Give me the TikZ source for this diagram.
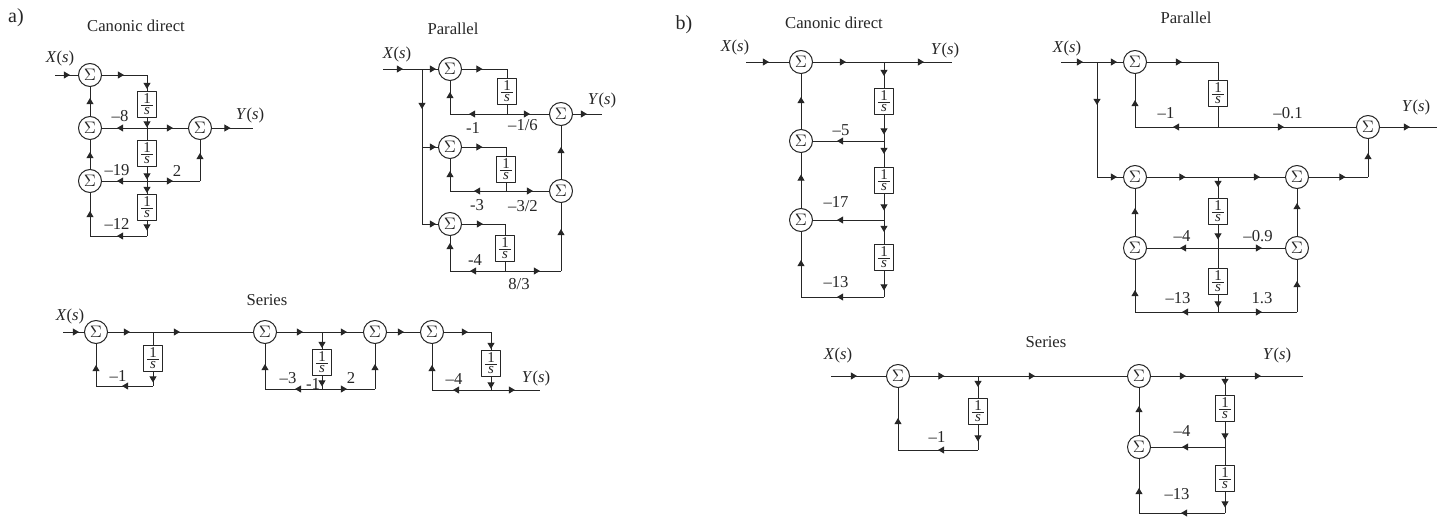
\documentclass[tikz,border=0pt]{standalone}
\usepackage{fontspec}
\setmainfont{Liberation Serif}
\usetikzlibrary{arrows.meta,decorations.markings}
\newcommand{\Xs}{\textit{X}(\textit{s})}
\newcommand{\Ys}{\textit{Y}(\textit{s})}
\newcommand{\oneovers}{$\frac{\mbox{\,1\,}}{\mbox{\itshape\,s\,}}$}
\tikzset{
	>={Triangle[length=3.7pt,width=4.2pt]},
	sumnode/.style={draw, circle, minimum size=13.8pt, inner sep=0pt},
	intbox/.style={draw, minimum width=11.4pt, minimum height=15.6pt, inner sep=0pt, font=\fontsize{9}{10}\selectfont},
	flow/.style={postaction={decorate, decoration={markings, mark=at position #1*0.6pt with {\arrow{>}}}}}
}
\begin{document}
\begin{tikzpicture}[x=0.6pt, y=-0.6pt, line width=0.6pt, draw=black!85, text=black!85, line join=round]
	\useasboundingbox (0,0) rectangle (1442,519);
	% summing points
	\foreach \p/\x/\y in {
		ca1/90/75, ca2/90/128, ca3/90/181, ca4/200/128,
		pa1/450/69, pa2/450/147, pa3/450/224, pa4/561/114, pa5/561/191,
		sa1/96/332, sa2/265/332, sa3/375/332, sa4/432/332,
		da1/801/62, da2/801/141, da3/801/220,
		ea1/1135/62, ea2/1135/177, ea3/1135/248, ea4/1368/127, ea5/1297/177, ea6/1297/248,
		fa1/898/376, fa2/1139/376, fa3/1139/447} {
		\node[sumnode] (\p) at (\x,\y) {$\Sigma$};
	}
	% integrators
	\foreach \p/\x/\y in {
		cb1/147/104, cb2/147/153, cb3/147/207,
		pb1/507/91, pb2/506/169, pb3/505/248,
		sb1/153/358, sb2/322/362, sb3/491/363,
		db1/884/101, db2/884/180, db3/884/257,
		eb1/1218/93, eb2/1218/211, eb3/1218/281,
		fb1/978/411, fb2/1225/408, fb3/1225/478} {
		\node[intbox] (\p) at (\x,\y) {\oneovers};
	}
	% free ends, corners, branch points
	\foreach \p/\x/\y in {
		cin/55/75, cout/253/128, cc1/147/75, cj1/147/128, cj2/147/181, cc2/200/181, cc3/147/236, cc4/90/236,
		pin/383/69, pj0/422/69, pj1/422/147, pc3/422/224, pc4/507/69, pj2/507/114, pc5/450/114, pout/602/114,
		pc6/506/147, pj3/506/191, pc7/450/191, pc8/505/224, pj4/505/271, pc9/450/271, pc10/561/271,
		sin/63/332, sj1/153/332, sc1/153/386, sc2/96/386, sj2/322/332, sj3/322/389, sc3/265/389, sc4/375/389,
		sc5/491/332, sj4/491/390, sc6/432/390, sout/540/390,
		din/746/62, dj0/884/62, dout/952/62, dj1/884/141, dj2/884/220, dc1/884/297, dc2/801/297,
		ein/1061/62, ej0/1097/62, ec1/1097/177, ec2/1218/62, ej1/1218/127, ec3/1135/127, eout/1437/127,
		ej2/1218/177, ec4/1368/177, ej3/1218/248, ej4/1218/312, ec5/1135/312, ec6/1297/312,
		fin/831/376, fj1/978/376, fc1/978/450, fc2/898/450, fj2/1225/376, fout/1303/376, fj3/1225/447,
		fc3/1225/513, fc4/1139/513} {
		\coordinate (\p) at (\x,\y);
	}
	% connectors with an arrow, last number is the distance to its tip
	\foreach \a/\b/\d in {
		cin/ca1/15, ca1/cc1/22, cc1/cb1/14, cb1/cj1/10, cj1/cb2/12, cj1/ca2/30, cj1/ca4/26, ca4/cout/18.5,
		cb2/cj2/13, cj2/cb3/12, cj2/ca3/30, cj2/cc2/26, cc2/ca4/28, cb3/cc3/10, cc3/cc4/30, cc4/ca3/25,
		ca3/ca2/17, ca2/ca1/18,
		pin/pj0/20, pj0/pa1/14, pj0/pj1/40, pj1/pa2/14, pc3/pa3/14, pa1/pc4/20.5, pj2/pc5/38, pc5/pa1/22,
		pj2/pa4/23, pa4/pout/14, pa2/pc6/20.5, pj3/pc7/32, pc7/pa2/20, pj3/pa5/27, pa5/pa4/32, pa3/pc8/21,
		pj4/pc9/35, pc9/pa3/28, pj4/pc10/35, pc10/pa5/42,
		sin/sa1/16, sa1/sj1/22, sb1/sc1/11, sc1/sc2/31, sc2/sa1/21, sj1/sa2/27, sa2/sj2/26, sj2/sa3/25,
		sj2/sb2/16, sb2/sj3/11, sj3/sc3/27, sc3/sa2/25, sj3/sc4/25, sc4/sa3/25, sa3/sa4/17, sa4/sc5/24,
		sc5/sb3/17, sb3/sj4/12, sj4/sc6/38, sc6/sa4/25, sj4/sout/24,
		din/da1/23, da1/dj0/33, dj0/dout/40, dj0/db1/14, db1/dj1/20, dj1/da2/47, dj1/db2/13, db2/dj2/17,
		dj2/da3/47, dj2/db3/12, db3/dc1/20, dc1/dc2/47, dc2/da3/37, da3/da2/33.5, da2/da1/32,
		ein/ej0/22, ej0/ea1/20, ej0/ec1/43, ec1/ea2/20, ea1/ec2/35, ej1/ec3/45, ec3/ea1/27, ej1/ea4/66,
		ea4/eout/30, ea2/ej2/38.5, ej2/ea5/42, ej2/eb2/10, ea5/ec4/36.5, ec4/ea4/24, eb2/ej3/15, ej3/ea3/38,
		ej3/ea6/44, ea3/ea2/28, ea6/ea5/33, eb3/ej4/13, ej4/ec5/36, ec5/ea3/22, ej4/ec6/44, ec6/ea6/31,
		fin/fa1/26, fa1/fj1/34.5, fj1/fa2/57, fj1/fb1/11, fb1/fc1/17, fc1/fc2/40, fc2/fa1/32, fa2/fj2/35,
		fj2/fout/36, fj2/fb2/9, fb2/fj3/18, fj3/fa3/43, fb3/fc3/16, fc3/fc4/44, fc4/fa3/25, fa3/fa2/29} {
		\draw[flow=\d] (\a) -- (\b);
	}
	% connectors without arrow
	\foreach \a/\b in {pj1/pc3, pc4/pb1, pb1/pj2, pc6/pb2, pb2/pj3, pc8/pb3, pb3/pj4,
		sj1/sb1, ec2/eb1, eb1/ej1, ej3/eb3, fj3/fb3} {
		\draw (\a) -- (\b);
	}
	% texts
	\foreach \n/\x/\y/\t in {
		ta/16/18/{\large a)}, tb/684/25/{\large b)},
		tc/136/26/Canonic direct, tp/453/29/Parallel, ts/267/300/Series,
		td/834/23/Canonic direct, te/1186/18/Parallel, tf/1046/342/Series,
		xc/60/58/\Xs, yc/250/115/\Ys, xp/397/54/\Xs, yp/602/100/\Ys, xs/70/316/\Xs, ys/536/378/\Ys,
		xd/735/47/\Xs, yd/945/50/\Ys, xe/1067/48/\Xs, ye/1416/107/\Ys, xf/838/355/\Xs, yf/1277/355/\Ys,
		l1/120/116/–8, l2/117/170/–19, l3/177/171/2, l4/117/224/–12,
		l5/473/128/-1, l6/523/125/{–1/6}, l7/477/205/-3, l8/523/206/{–3/2}, l9/475/260/-4, l10/519/284/{8/3},
		l11/118/376/–1, l12/288/378/–3, l13/313/384/-1, l14/351/378/2, l15/454/379/–4,
		l16/841/130/–5, l17/836/202/–17, l18/836/282/–13,
		l19/1166/113/–1, l20/1288/113/–0.1, l21/1182/236/–4, l22/1258/236/–0.9, l23/1178/298/–13, l24/1262/298/1.3,
		l25/937/437/–1, l26/1182/431/–4, l27/1177/494/–13} {
		\node[inner sep=0pt] (\n) at (\x,\y) {\t};
	}
\end{tikzpicture}
\end{document}
